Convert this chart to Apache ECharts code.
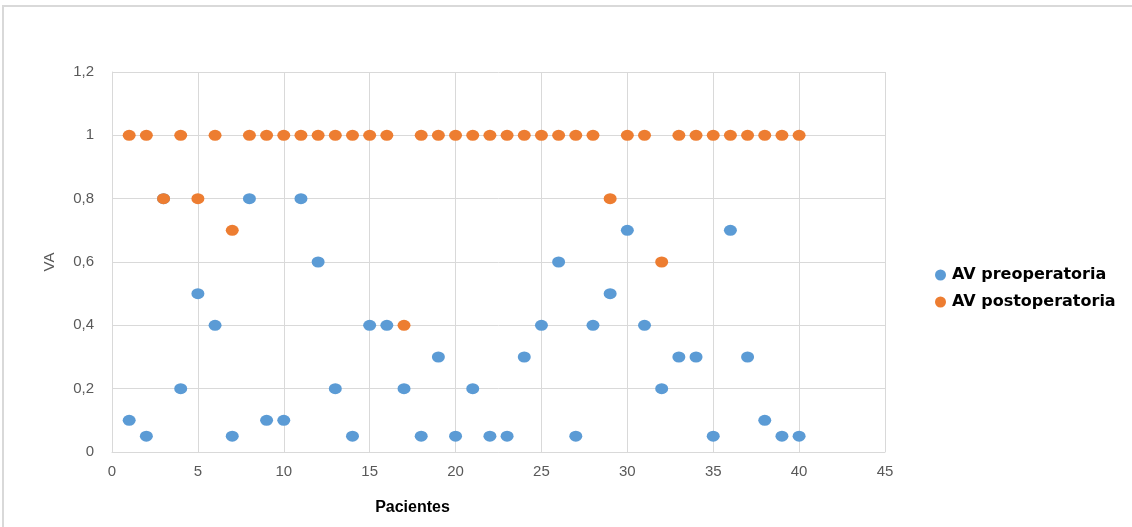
<!DOCTYPE html>
<html>
<head>
<meta charset="utf-8">
<script src="https://cdn.jsdelivr.net/npm/echarts@6/dist/echarts.min.js"></script>
<style>
  html, body { margin: 0; padding: 0; background: #fff; }
  #chart { width: 1132px; height: 527px; }
</style>
</head>
<body>
<div id="chart"></div>
<script>
// pacientes 1..40
var pacientes = [1,2,3,4,5,6,7,8,9,10,11,12,13,14,15,16,17,18,19,20,
                 21,22,23,24,25,26,27,28,29,30,31,32,33,34,35,36,37,38,39,40];
var avPre = [0.1,0.05,0.8,0.2,0.5,0.4,0.05,0.8,0.1,0.1,0.8,0.6,0.2,0.05,0.4,0.4,0.2,0.05,0.3,0.05,
             0.2,0.05,0.05,0.3,0.4,0.6,0.05,0.4,0.5,0.7,0.4,0.2,0.3,0.3,0.05,0.7,0.3,0.1,0.05,0.05];
var avPost = [1,1,0.8,1,0.8,1,0.7,1,1,1,1,1,1,1,1,1,0.4,1,1,1,
              1,1,1,1,1,1,1,1,0.8,1,1,0.6,1,1,1,1,1,1,1,1];
var yTicks = ['0','0,2','0,4','0,6','0,8','1','1,2'];

function pairs(vals) {
  var out = [];
  for (var i = 0; i < pacientes.length; i++) out.push([pacientes[i], vals[i]]);
  return out;
}

var myChart = echarts.init(document.getElementById('chart'));
var option = {
  animation: false,
  grid: { left: 112, right: 247, top: 72, bottom: 75 },
  graphic: [{
    type: 'rect',
    shape: { x: 3, y: 6, width: 1200, height: 600 },
    style: { fill: 'none', stroke: '#d9d9d9', lineWidth: 2 },
    silent: true
  }],
  legend: {
    orient: 'vertical',
    left: 930,
    top: 262,
    itemGap: 11,
    itemWidth: 13,
    itemHeight: 11,
    textStyle: { fontFamily: 'DejaVu Sans', fontWeight: 'bold', fontSize: 16, color: '#000' },
    data: [
      { name: 'AV preoperatoria', icon: 'circle' },
      { name: 'AV postoperatoria', icon: 'circle' }
    ]
  },
  xAxis: {
    type: 'value',
    min: 0, max: 45, interval: 5,
    name: 'Pacientes',
    nameLocation: 'middle',
    nameGap: 48,
    nameTextStyle: { fontFamily: 'Liberation Sans', fontWeight: 'bold', fontSize: 16, color: '#000', padding: [0, 172, 0, 0] },
    axisLine: { show: true, lineStyle: { color: '#d9d9d9', width: 1 } },
    axisTick: { show: false },
    axisLabel: { margin: 12, fontFamily: 'Liberation Sans', fontSize: 15, color: '#595959' },
    splitLine: { show: true, lineStyle: { color: '#d9d9d9' } }
  },
  yAxis: {
    type: 'value',
    min: 0, max: 1.2, interval: 0.2,
    name: 'VA',
    nameLocation: 'middle',
    nameGap: 55,
    nameTextStyle: { fontFamily: 'Liberation Sans', fontSize: 15, color: '#595959' },
    axisLine: { show: true, lineStyle: { color: '#d9d9d9', width: 1 } },
    axisTick: { show: false },
    axisLabel: {
      margin: 18,
      fontFamily: 'Liberation Sans', fontSize: 15, color: '#595959',
      formatter: function (v) { return yTicks[Math.round(v / 0.2)]; }
    },
    splitLine: { show: true, lineStyle: { color: '#d9d9d9' } }
  },
  series: [
    {
      name: 'AV preoperatoria',
      type: 'scatter',
      symbol: 'circle',
      symbolSize: [13, 11],
      itemStyle: { color: '#5B9BD5', opacity: 1 },
      data: pairs(avPre),
      z: 2
    },
    {
      name: 'AV postoperatoria',
      type: 'scatter',
      symbol: 'circle',
      symbolSize: [13, 11],
      itemStyle: { color: '#ED7D31', opacity: 1 },
      data: pairs(avPost),
      z: 3
    }
  ]
};
myChart.setOption(option);
</script>
</body>
</html>
